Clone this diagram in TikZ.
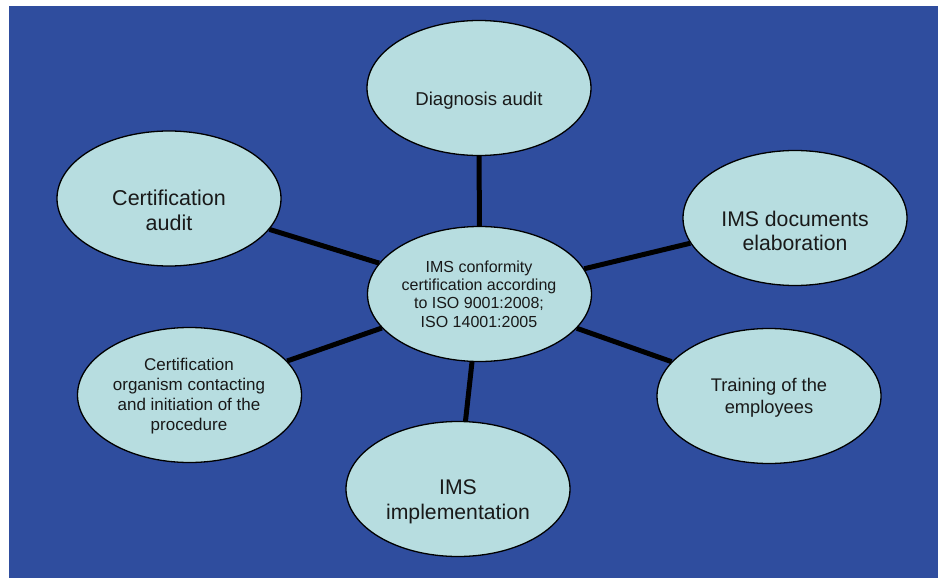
\documentclass[tikz,border=0pt]{standalone}
\usepackage{fontspec}
\setmainfont{Liberation Sans}
\usetikzlibrary{shapes.geometric}
\definecolor{bgblue}{HTML}{2F4D9E}
\definecolor{ellfill}{HTML}{B7DDE0}
\tikzset{
  oval/.style={ellipse, draw=black, line width=1.3pt, fill=ellfill,
    minimum width=224pt, minimum height=135pt, inner sep=0pt},
  lbl/.style={align=center, text=black!90, inner sep=0pt},
  link/.style={line width=5pt, black}
}
\begin{document}
\begin{tikzpicture}[x=1pt,y=-1pt]
\useasboundingbox (0,0) rectangle (938,578);
\fill[white] (0,0) rectangle (938,578);
\fill[bgblue] (9,6) rectangle (938,578);

\node[oval] (ctr) at (479.5,294) {};
\node[oval] (diag) at (479,88) {};
\node[oval] (caud) at (169,198.5) {};
\node[oval] (docs) at (795,218) {};
\node[oval] (train) at (769,396) {};
\node[oval] (impl) at (458,489) {};
\node[oval] (org) at (189.5,395) {};

\draw[link] (ctr) -- (diag);
\draw[link] (ctr) -- (caud);
\draw[link] (ctr) -- (docs);
\draw[link] (ctr) -- (train);
\draw[link] (ctr) -- (impl);
\draw[link] (ctr) -- (org);

\node[lbl, font=\fontsize{16}{18.4}\selectfont] (ctrT) at (479,294)
  {IMS conformity\\certification according\\to ISO 9001:2008;\\ISO 14001:2005};
\node[lbl, font=\fontsize{18.6}{22}\selectfont] (diagT) at (479,101) {Diagnosis audit};
\node[lbl, font=\fontsize{21.5}{25}\selectfont] (caudT) at (169,210) {Certification\\audit};
\node[lbl, font=\fontsize{21.2}{24.5}\selectfont] (docsT) at (795,231) {IMS documents\\elaboration};
\node[lbl, font=\fontsize{18.3}{22}\selectfont] (trainT) at (769,398) {Training of the\\employees};
\node[lbl, font=\fontsize{21.2}{24.5}\selectfont] (implT) at (458,502) {IMS\\implementation};
\node[lbl, font=\fontsize{17}{20}\selectfont] (orgT) at (189,396)
  {Certification\\organism contacting\\and initiation of the\\procedure};
\end{tikzpicture}
\end{document}
